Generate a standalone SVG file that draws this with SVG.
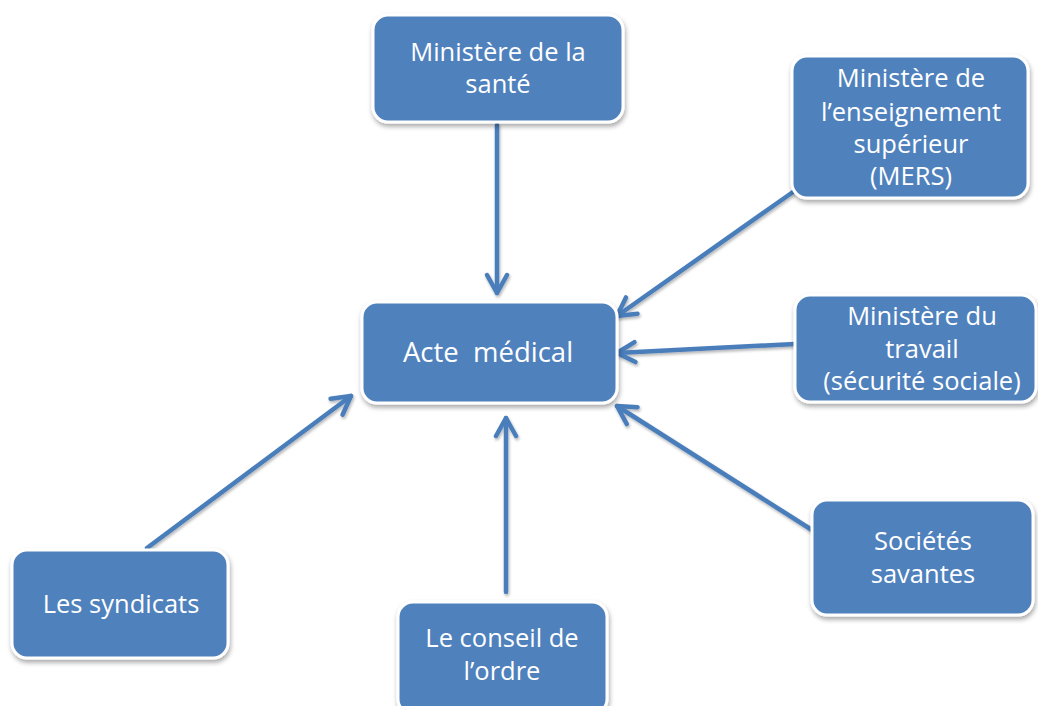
<svg xmlns="http://www.w3.org/2000/svg" width="1038" height="706" viewBox="0 0 1038 706">
<defs>
<filter id="sh" x="-10%" y="-10%" width="125%" height="130%">
<feGaussianBlur in="SourceAlpha" stdDeviation="2.5"/>
<feOffset dx="1" dy="3" result="b"/>
<feComponentTransfer><feFuncA type="linear" slope="0.35"/></feComponentTransfer>
<feMerge><feMergeNode/><feMergeNode in="SourceGraphic"/></feMerge>
</filter>
<filter id="lsh" x="-20%" y="-20%" width="140%" height="140%">
<feGaussianBlur in="SourceAlpha" stdDeviation="1.5"/>
<feOffset dx="1" dy="2"/>
<feComponentTransfer><feFuncA type="linear" slope="0.3"/></feComponentTransfer>
<feMerge><feMergeNode/><feMergeNode in="SourceGraphic"/></feMerge>
</filter>
<marker id="ah" markerUnits="userSpaceOnUse" viewBox="-24 -14 28 28" refX="0" refY="0" markerWidth="28" markerHeight="28" orient="auto">
<path d="M -18 -10 L 0 0 L -18 10" fill="none" stroke="#4a7ebb" stroke-width="4.5" stroke-linecap="round" stroke-linejoin="round"/>
</marker>
</defs>
<style>
.box{fill:#4f81bd;stroke:#ffffff;stroke-width:3;filter:url(#sh)}
.t{font-family:"Open Sans","Noto Sans","Liberation Sans",sans-serif;font-size:25.5px;fill:#ffffff;text-anchor:middle}
.c{stroke:#4a7ebb;stroke-width:4.5;fill:none;stroke-linecap:round;marker-end:url(#ah)}
</style>
<rect width="1038" height="706" fill="#ffffff"/>
<g id="connectors" filter="url(#lsh)">
<line class="c" x1="497" y1="125" x2="497" y2="293"/>
<line class="c" x1="793" y1="192" x2="617" y2="316"/>
<line class="c" x1="795" y1="344" x2="617" y2="353"/>
<line class="c" x1="812" y1="530" x2="617" y2="406"/>
<line class="c" x1="147" y1="548" x2="351" y2="396"/>
<line class="c" x1="506" y1="592" x2="506" y2="418"/>
</g>
<g id="sante">
<rect class="box" x="373" y="15" width="250" height="107" rx="15"/>
<text class="t" x="498" y="61">Ministère de la</text>
<text class="t" x="498" y="93">santé</text>
</g>
<g id="acte">
<rect class="box" x="362" y="302" width="255" height="101" rx="15"/>
<text class="t" x="488" y="362" style="font-size:27.5px" xml:space="preserve">Acte  médical</text>
</g>
<g id="mers">
<rect class="box" x="792" y="56" width="236" height="142" rx="15"/>
<text class="t" x="911" y="87">Ministère de</text>
<text class="t" x="911" y="121">l’enseignement</text>
<text class="t" x="911" y="153">supérieur</text>
<text class="t" x="911" y="185">(MERS)</text>
</g>
<g id="travail">
<rect class="box" x="795" y="295" width="241" height="107" rx="15"/>
<text class="t" x="922" y="325">Ministère du</text>
<text class="t" x="922" y="358">travail</text>
<text class="t" x="922" y="390">(sécurité sociale)</text>
</g>
<g id="societes">
<rect class="box" x="812" y="500" width="221" height="115" rx="15"/>
<text class="t" x="923" y="550">Sociétés</text>
<text class="t" x="923" y="583">savantes</text>
</g>
<g id="syndicats">
<rect class="box" x="12" y="550" width="216" height="108" rx="15"/>
<text class="t" x="121" y="613">Les syndicats</text>
</g>
<g id="ordre">
<rect class="box" x="398" y="602" width="209" height="112" rx="15"/>
<text class="t" x="502" y="647">Le conseil de</text>
<text class="t" x="502" y="680">l’ordre</text>
</g>
</svg>
